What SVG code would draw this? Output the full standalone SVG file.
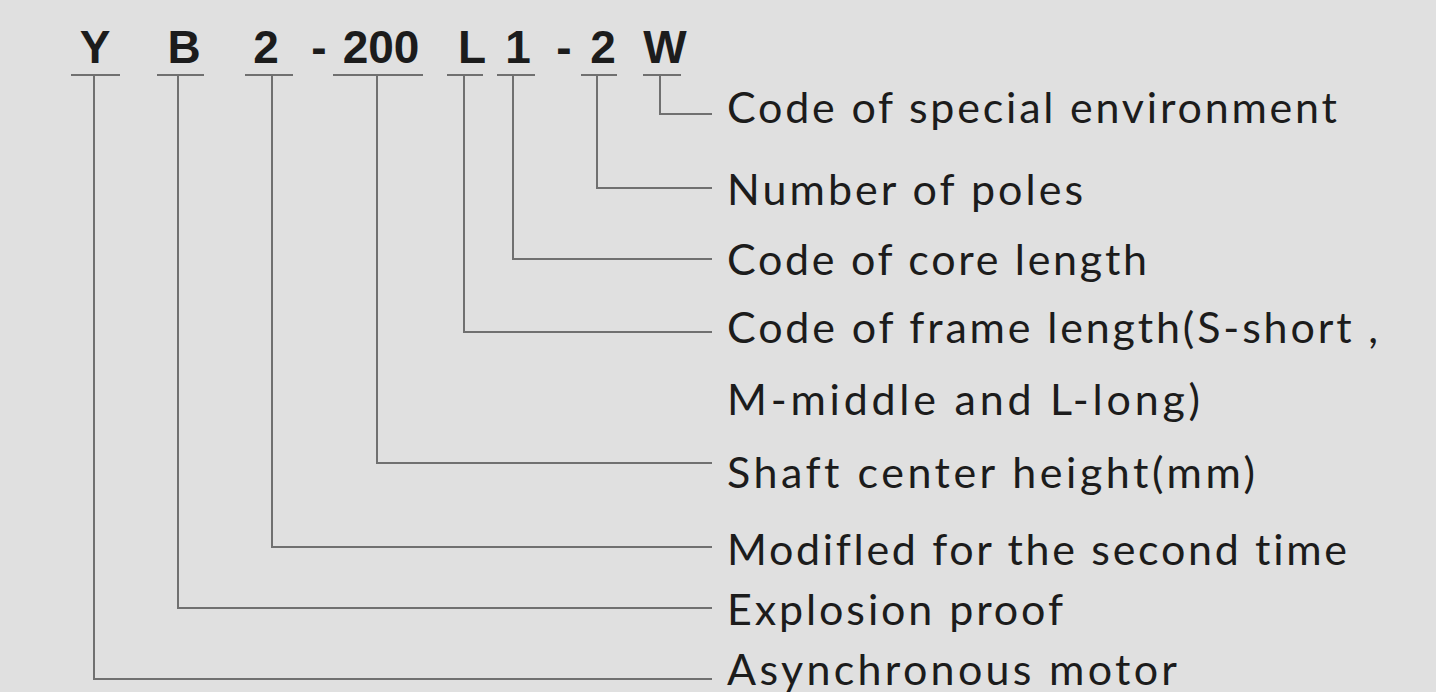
<svg xmlns="http://www.w3.org/2000/svg" width="1436" height="692" viewBox="0 0 1436 692">
<style>
.code{font-family:"Liberation Sans",Arial,sans-serif;font-weight:bold;font-size:46px;fill:#1c1c1c;text-anchor:middle}
.lbl{font-family:Lato,"Noto Sans",sans-serif;font-size:43px;fill:#1c1c1c;font-variant-ligatures:none;font-feature-settings:"liga" 0,"clig" 0,"dlig" 0}
.ln{stroke:#707070;stroke-width:2;fill:none}
</style>
<rect width="1436" height="692" fill="#e0e0e0"/>
<g id="code">
<text class="code" x="95" y="63">Y</text>
<text class="code" x="184" y="63">B</text>
<text class="code" x="266" y="63">2</text>
<text class="code" x="319" y="63">-</text>
<text class="code" x="381" y="63">200</text>
<text class="code" x="472" y="63">L</text>
<text class="code" x="518" y="63">1</text>
<text class="code" x="564" y="63">-</text>
<text class="code" x="603" y="63">2</text>
<text class="code" x="665" y="63">W</text>
</g>
<g id="underlines" class="ln">
<line x1="71" y1="75" x2="120" y2="75"/>
<line x1="157" y1="75" x2="204" y2="75"/>
<line x1="245" y1="75" x2="293" y2="75"/>
<line x1="333" y1="75" x2="423" y2="75"/>
<line x1="447" y1="75" x2="483" y2="75"/>
<line x1="497" y1="75" x2="535" y2="75"/>
<line x1="581" y1="75" x2="617" y2="75"/>
<line x1="643" y1="75" x2="681" y2="75"/>
</g>
<g id="connectors" class="ln">
<polyline points="660,75 660,114 712,114"/>
<polyline points="597,75 597,188 712,188"/>
<polyline points="513,75 513,259 712,259"/>
<polyline points="464,75 464,332 712,332"/>
<polyline points="377,75 377,463 712,463"/>
<polyline points="272,75 272,547 712,547"/>
<polyline points="178,75 178,608 712,608"/>
<polyline points="94,75 94,679 712,679"/>
</g>
<g id="labels">
<text class="lbl" x="727" y="123" textLength="610" lengthAdjust="spacing">Code of special environment</text>
<text class="lbl" x="727" y="205" textLength="356" lengthAdjust="spacing">Number of poles</text>
<text class="lbl" x="727" y="275" textLength="420" lengthAdjust="spacing">Code of core length</text>
<text class="lbl" x="727" y="343" textLength="651" lengthAdjust="spacing">Code of frame length(S-short ,</text>
<text class="lbl" x="727" y="415" textLength="473" lengthAdjust="spacing">M-middle and L-long)</text>
<text class="lbl" x="727" y="488" textLength="528" lengthAdjust="spacing">Shaft center height(mm)</text>
<text class="lbl" x="727" y="565" textLength="620" lengthAdjust="spacing">Modifled for the second time</text>
<text class="lbl" x="727" y="625" textLength="336" lengthAdjust="spacing">Explosion proof</text>
<text class="lbl" x="727" y="685" textLength="450" lengthAdjust="spacing">Asynchronous motor</text>
</g>
</svg>
